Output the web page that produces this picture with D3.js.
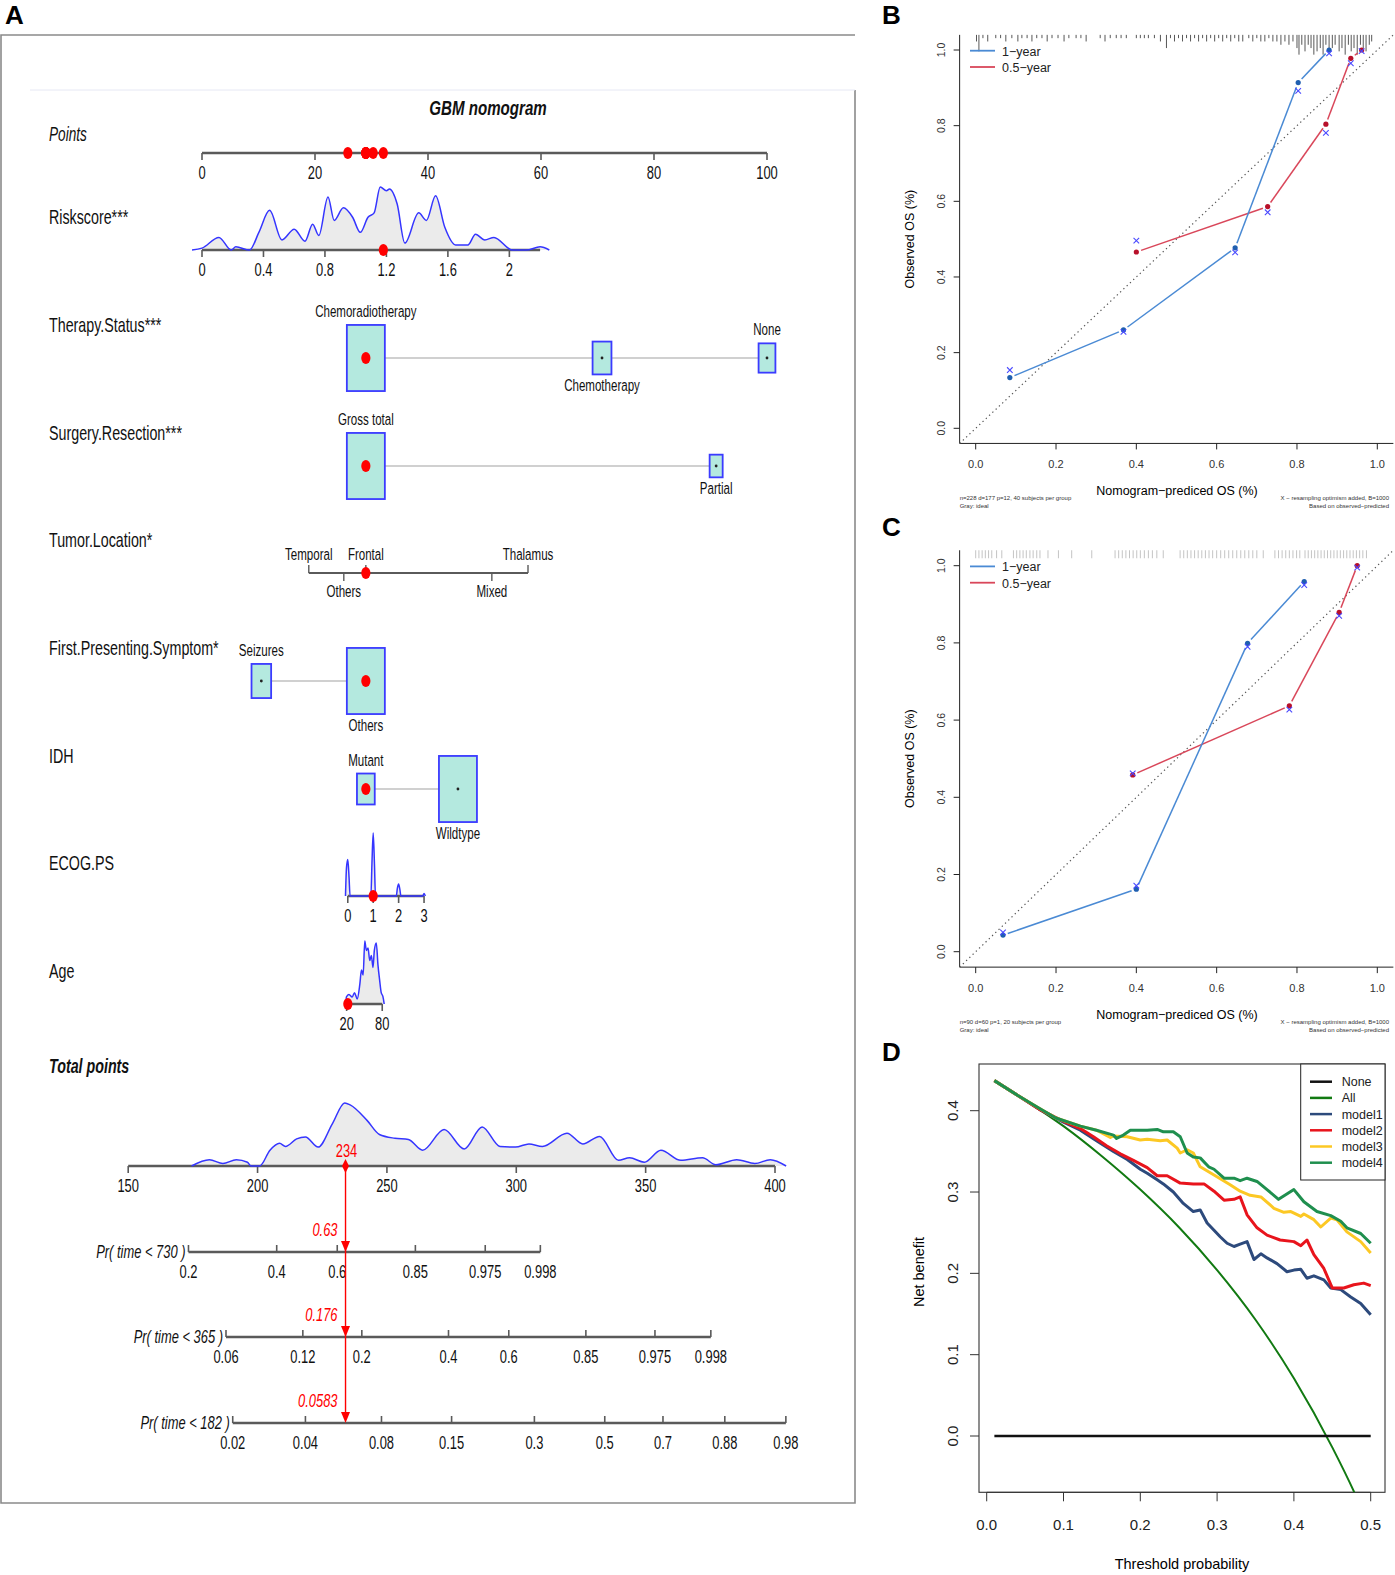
<!DOCTYPE html>
<html>
<head>
<meta charset="utf-8">
<script src="https://cdn.jsdelivr.net/npm/d3@7"></script>
<style>
body{margin:0;background:#fff}
svg text{font-family:"Liberation Sans",Arial,Helvetica,sans-serif}
</style>
</head>
<body>
<script>
// ---------------- data: nomogram (A) ----------------
const pointsTicks = [0,20,40,60,80,100]
const riskTicks = [0,0.4,0.8,1.2,1.6,2]
const riskRange = [0,2], riskPts = [0,54.4]
const riskX = [-0.065,0.0,0.11,0.19,0.22,0.31,0.37,0.44,0.52,0.60,0.67,0.72,0.76,0.82,0.86,0.92,0.98,1.03,1.08,1.12,1.16,1.20,1.22,1.27,1.32,1.41,1.46,1.52,1.58,1.65,1.73,1.78,1.84,1.90,2.02,2.11,2.20,2.26]
const riskDens = [0,0.03,0.2,0,0.05,0,0.28,0.63,0.16,0.33,0.14,0.41,0.23,0.84,0.47,0.67,0.52,0.28,0.52,0.59,1.0,0.94,0.97,0.73,0.11,0.59,0.47,0.86,0.36,0.08,0.08,0.25,0.16,0.2,0,0,0.05,0]

const therapyLevels = ["Chemoradiotherapy","Chemotherapy","None"]
const therapyPts = [29,70.8,100]
const therapyN = [158,39,31]
const surgeryLevels = ["Gross total","Partial"]
const surgeryPts = [29,91]
const surgeryN = [204,24]
const locationLevels = ["Temporal","Others","Frontal","Mixed","Thalamus"]
const locationPts = [18.9,25.1,29,51.3,57.7]
const symptomLevels = ["Seizures","Others"]
const symptomPts = [10.5,29]
const symptomN = [48,180]
const idhLevels = ["Mutant","Wildtype"]
const idhPts = [29,45.3]
const idhN = [41,187]

const ecogTicks = [0,1,2,3]
const ecogRange = [0,3], ecogPts = [25.8,39.3]
const ecogX = [-0.09,-0.05,0,0.05,0.09,0.91,0.95,1.0,1.05,1.09,1.91,1.95,2.0,2.05,2.09,2.95,3.0,3.05]
const ecogDens = [0,0.45,0.58,0.3,0,0,0.5,1.0,0.5,0,0,0.12,0.19,0.1,0,0,0.04,0]

const ageTicks = [20,80]
const ageRange = [20,80], agePts = [25.6,31.9]
const ageX = [19.0,19.5,23.9,29.4,33.3,37.8,42.2,45,47.8,50.6,53.3,56.1,58.9,61.7,64.4,66.7,70,72.8,75.6,78.3,81.1,83.3]
const ageDens = [0,0.11,0.15,0.11,0.18,0.08,0.31,0.54,0.46,1.0,0.85,0.89,0.69,0.77,0.58,0.85,0.97,0.62,0.38,0.18,0.12,0]

// patient values
const patient = {risk:1.18, therapy:"Chemoradiotherapy", surgery:"Gross total", location:"Frontal", symptom:"Others", idh:"Mutant", ecog:1, age:22}
const totalScore = 234

const totalTicks = [150,200,250,300,350,400]
const totalX = [174.5,181.4,186.6,191.8,196.1,197.5,200.8,204.8,208.5,210.8,215.1,218.5,223.4,228.9,233.7,235.8,242.4,247.1,253.1,258.3,263.8,272.1,279.9,286.8,293.7,299.7,304.9,310.1,319.6,325.7,332.2,339.5,343.8,349.5,355.9,363.6,372,377.1,385.2,392.2,398.2,404.3]
const totalDens = [0,0.10,0.04,0.10,0.06,0,0,0.25,0.36,0.31,0.43,0.46,0.30,0.67,1.0,0.97,0.72,0.50,0.44,0.42,0.25,0.58,0.27,0.62,0.31,0.30,0.35,0.31,0.52,0.35,0.47,0.09,0.13,0.06,0.25,0.09,0.13,0.02,0.10,0.04,0.10,0]

const pr730Labels = ["0.2","0.4","0.6","0.85","0.975","0.998"]
const pr730At = [173.3,207.4,230.8,261.0,288.0,309.3]
const pr365Labels = ["0.06","0.12","0.2","0.4","0.6","0.85","0.975","0.998"]
const pr365At = [187.8,217.5,240.3,273.8,297.1,326.9,353.6,375.2]
const pr182Labels = ["0.02","0.04","0.08","0.15","0.3","0.5","0.7","0.88","0.98"]
const pr182At = [190.4,218.5,247.9,275,307,334.2,356.7,380.6,404.2]
const predicted = ["0.63","0.176","0.0583"]

// ---------------- data: calibration (B, C) ----------------
const calTicks = [0,0.2,0.4,0.6,0.8,1.0]
const B1yrPred = [0.085,0.368,0.646,0.803,0.880]
const B1yrObs  = [0.134,0.260,0.477,0.914,1.000]
const B1yrOpt  = [0.154,0.255,0.465,0.892,0.991]
const B6moPred = [0.400,0.727,0.872,0.934,0.961]
const B6moObs  = [0.466,0.586,0.804,0.978,1.000]
const B6moOpt  = [0.496,0.571,0.781,0.965,0.997]
const C1yrPred = [0.068,0.400,0.677,0.818]
const C1yrObs  = [0.043,0.162,0.799,0.959]
const C1yrOpt  = [0.050,0.171,0.790,0.950]
const C6moPred = [0.391,0.781,0.905,0.950]
const C6moObs  = [0.458,0.637,0.879,1.000]
const C6moOpt  = [0.462,0.627,0.870,0.995]
// spike histogram of predictions (value, count)
const rugB = [[0.002,2],[0.008,5],[0.018,1],[0.03,2],[0.05,1],[0.062,1],[0.075,2],[0.09,1],[0.105,2],[0.115,1],[0.128,1],[0.14,2],[0.152,1],[0.165,1],[0.178,2],[0.19,1],[0.205,1],[0.22,2],[0.232,1],[0.25,1],[0.262,1],[0.275,2],[0.31,1],[0.322,2],[0.335,1],[0.35,1],[0.362,1],[0.375,1],[0.40,1],[0.41,1],[0.42,1],[0.43,1],[0.445,1],[0.46,2],[0.475,4],[0.485,1],[0.495,2],[0.505,1],[0.515,2],[0.525,1],[0.535,2],[0.545,1],[0.555,2],[0.565,1],[0.575,2],[0.585,1],[0.595,2],[0.605,1],[0.615,2],[0.625,1],[0.635,2],[0.645,1],[0.655,2],[0.665,2],[0.68,1],[0.69,2],[0.70,1],[0.71,2],[0.72,2],[0.73,1],[0.74,2],[0.75,2],[0.76,3],[0.77,2],[0.78,3],[0.79,2],[0.80,4],[0.805,6],[0.812,3],[0.82,5],[0.828,3],[0.835,4],[0.842,6],[0.85,5],[0.858,4],[0.865,6],[0.872,3],[0.88,5],[0.888,4],[0.895,3],[0.905,5],[0.912,4],[0.92,6],[0.928,3],[0.935,5],[0.942,4],[0.95,6],[0.958,3],[0.965,4],[0.972,5],[0.98,3],[0.986,2]]
const rugC = [0.0,0.008,0.016,0.024,0.032,0.04,0.052,0.065,0.094,0.102,0.11,0.118,0.126,0.135,0.143,0.152,0.16,0.18,0.206,0.239,0.289,0.347,0.356,0.365,0.374,0.383,0.392,0.401,0.41,0.42,0.43,0.44,0.451,0.467,0.509,0.518,0.527,0.536,0.545,0.554,0.563,0.572,0.581,0.59,0.60,0.61,0.62,0.63,0.64,0.65,0.66,0.67,0.68,0.69,0.70,0.716,0.745,0.754,0.763,0.772,0.781,0.79,0.799,0.807,0.82,0.828,0.836,0.844,0.852,0.86,0.868,0.876,0.884,0.892,0.90,0.908,0.916,0.924,0.932,0.94,0.948,0.956,0.964,0.973]

// ---------------- data: decision curves (D) ----------------
const dcaXTicks = [0,0.1,0.2,0.3,0.4,0.5]
const dcaYTicks = [0,0.1,0.2,0.3,0.4]
const dcaNone = [[0.01,0],[0.5,0]]
const dcaAll = [[0.01,0.437],[0.05,0.413],[0.1,0.381],[0.15,0.344],[0.2,0.303],[0.25,0.257],[0.3,0.204],[0.35,0.143],[0.4,0.071],[0.45,-0.014],[0.48,-0.072],[0.5,-0.115]]
const dcaModel1 = [[0.01,0.437],[0.04,0.419],[0.07,0.401],[0.10,0.386],[0.122,0.376],[0.143,0.363],[0.165,0.35],[0.183,0.34],[0.2,0.328],[0.209,0.323],[0.222,0.315],[0.23,0.31],[0.243,0.3],[0.256,0.286],[0.269,0.276],[0.278,0.278],[0.287,0.262],[0.296,0.253],[0.304,0.245],[0.313,0.237],[0.322,0.233],[0.33,0.236],[0.339,0.239],[0.348,0.217],[0.357,0.224],[0.365,0.219],[0.378,0.212],[0.391,0.202],[0.4,0.204],[0.409,0.205],[0.417,0.194],[0.426,0.197],[0.439,0.192],[0.448,0.182],[0.461,0.180],[0.474,0.171],[0.487,0.163],[0.5,0.149]]
const dcaModel2 = [[0.01,0.437],[0.04,0.419],[0.07,0.401],[0.10,0.387],[0.122,0.378],[0.139,0.368],[0.156,0.357],[0.174,0.347],[0.191,0.339],[0.209,0.33],[0.222,0.32],[0.235,0.32],[0.252,0.311],[0.269,0.31],[0.283,0.31],[0.296,0.301],[0.309,0.29],[0.322,0.291],[0.33,0.294],[0.339,0.272],[0.352,0.256],[0.365,0.247],[0.382,0.241],[0.4,0.239],[0.409,0.234],[0.417,0.241],[0.426,0.223],[0.439,0.206],[0.45,0.182],[0.465,0.182],[0.478,0.186],[0.491,0.188],[0.5,0.185]]
const dcaModel3 = [[0.01,0.437],[0.04,0.419],[0.07,0.402],[0.09,0.391],[0.122,0.381],[0.143,0.376],[0.161,0.367],[0.165,0.369],[0.183,0.368],[0.2,0.364],[0.209,0.365],[0.226,0.363],[0.235,0.364],[0.248,0.354],[0.252,0.348],[0.261,0.352],[0.269,0.348],[0.278,0.331],[0.296,0.321],[0.317,0.309],[0.33,0.301],[0.343,0.296],[0.357,0.294],[0.374,0.28],[0.387,0.275],[0.396,0.276],[0.409,0.27],[0.413,0.273],[0.426,0.266],[0.435,0.257],[0.448,0.268],[0.456,0.266],[0.469,0.251],[0.487,0.239],[0.5,0.225]]
const dcaModel4 = [[0.01,0.437],[0.04,0.419],[0.07,0.402],[0.09,0.391],[0.122,0.381],[0.143,0.376],[0.165,0.37],[0.169,0.366],[0.178,0.37],[0.187,0.376],[0.209,0.376],[0.222,0.377],[0.23,0.374],[0.243,0.374],[0.252,0.368],[0.261,0.348],[0.269,0.343],[0.278,0.342],[0.289,0.331],[0.296,0.328],[0.309,0.317],[0.322,0.317],[0.33,0.314],[0.339,0.317],[0.352,0.313],[0.365,0.303],[0.38,0.291],[0.4,0.303],[0.413,0.288],[0.43,0.276],[0.448,0.271],[0.461,0.264],[0.469,0.256],[0.487,0.249],[0.5,0.237]]
const dcaNames = ["None","All","model1","model2","model3","model4"]
const dcaColors = ["#111111","#127a12","#2d4a7c","#e8141c","#fcc824","#1f8f4e"]

// ---------------- drawing ----------------
const svg = d3.select("body").append("svg")
    .attr("width",1395).attr("height",1575).style("display","block")

// condensed text like the R device output
function ctext(g, x, y, s, o){
    o = o || {}
    const t = g.append("text")
        .attr("transform",`translate(${x},${y}) scale(${o.sx||0.68},1)`)
        .attr("text-anchor",o.anchor||"start")
        .style("font-size",(o.size||19)+"px")
        .attr("fill",o.fill||"#111")
        .text(s)
    if(o.italic) t.style("font-style","italic")
    if(o.bold) t.style("font-weight","bold")
    return t
}

function panelLetter(x,y,s){
    svg.append("text").attr("x",x).attr("y",y).style("font-size","26px")
        .style("font-weight","bold").text(s)
}
panelLetter(5,24,"A"); panelLetter(882,24,"B"); panelLetter(882,536,"C"); panelLetter(882,1061,"D")

// ===== Panel A =====
const A = svg.append("g")
A.append("path").attr("d","M855,35 H1 V1503 H855 V90").attr("fill","none").attr("stroke","#8a8a8a").attr("stroke-width",1.6)
A.append("path").attr("d","M30,90 H855").attr("stroke","#e6e8f4").attr("stroke-width",1)

const xP = d3.scaleLinear([0,100],[202,767])
const axisCol = "#5a5a5a", boxFill = "#b4e9df", boxStroke = "#3b3bff", densCol = "#3535ff"

ctext(A,488,115,"GBM nomogram",{anchor:"middle",size:21,bold:true,italic:true,sx:0.72})

function hAxis(y, x0, x1, ticks, up){
    A.append("line").attr("x1",x0).attr("x2",x1).attr("y1",y).attr("y2",y)
        .attr("stroke",axisCol).attr("stroke-width",2.6)
    ticks.forEach(t=>{
        A.append("line").attr("x1",t.x).attr("x2",t.x).attr("y1",y).attr("y2",up? y-7 : y+7)
            .attr("stroke",axisCol).attr("stroke-width",1.6)
        ctext(A,t.x,y+26,t.label,{anchor:"middle",size:19})
    })
}
function redDot(x,y){
    A.append("ellipse").attr("cx",x).attr("cy",y).attr("rx",4.6).attr("ry",6).attr("fill","#ff0000")
}
function rowLabel(y,s){ ctext(A,49,y,s,{size:21}) }

// Points
const yPoints = 153
ctext(A,49,141,"Points",{size:20,italic:true})
hAxis(yPoints,xP(0),xP(100),pointsTicks.map(v=>({x:xP(v),label:String(v)})),false)

// continuous density row
function densityRow(y, xs, ds, mapX, fill){
    const data = xs.map((v,i)=>[v,ds[i]])
    const area = d3.area().x(d=>mapX(d[0])).y0(y).y1(d=>y-d[1]*63).curve(d3.curveMonotoneX)
    const line = d3.line().x(d=>mapX(d[0])).y(d=>y-d[1]*63).curve(d3.curveMonotoneX)
    A.append("path").attr("d",area(data)).attr("fill",fill)
    return ()=>A.append("path").attr("d",line(data)).attr("fill","none").attr("stroke",densCol).attr("stroke-width",1.5)
}

// Riskscore
const yRisk = 250
rowLabel(yRisk-26,"Riskscore***")
const riskToPts = d3.scaleLinear(riskRange,riskPts)
const xRisk = v=>xP(riskToPts(v))
const riskLine = densityRow(yRisk,riskX,riskDens,xRisk,"#ebebeb")
hAxis(yRisk,xRisk(0),xRisk(2.2),riskTicks.map(v=>({x:xRisk(v),label:String(v)})),false)
riskLine()
redDot(xRisk(patient.risk),yRisk)

// categorical rows drawn as boxes
function boxRow(y, levels, pts, n, selected){
    const maxN = d3.max(n)
    const order = d3.range(levels.length).sort((a,b)=>pts[a]-pts[b])
    A.append("line").attr("x1",xP(d3.min(pts))).attr("x2",xP(d3.max(pts))).attr("y1",y).attr("y2",y)
        .attr("stroke","#d0d0d0").attr("stroke-width",2)
    order.forEach((k,j)=>{
        const w = 38*Math.sqrt(n[k]/maxN), h = w*1.74, cx = xP(pts[k])
        A.append("rect").attr("x",cx-w/2).attr("y",y-h/2).attr("width",w).attr("height",h)
            .attr("fill",boxFill).attr("stroke",boxStroke).attr("stroke-width",1.8)
        if(levels[k]===selected) redDot(cx,y)
        else A.append("circle").attr("cx",cx).attr("cy",y).attr("r",1.4).attr("fill","#222")
        if(j%2===0) ctext(A,cx,y-h/2-8,levels[k],{anchor:"middle",size:17})
        else ctext(A,cx,y+h/2+17,levels[k],{anchor:"middle",size:17})
    })
}

const yTher = 358
rowLabel(yTher-26,"Therapy.Status***")
boxRow(yTher,therapyLevels,therapyPts,therapyN,patient.therapy)

const ySurg = 466
rowLabel(ySurg-26,"Surgery.Resection***")
boxRow(ySurg,surgeryLevels,surgeryPts,surgeryN,patient.surgery)

// Tumor location: plain axis with alternating labels
const yLoc = 573
rowLabel(yLoc-26,"Tumor.Location*")
A.append("line").attr("x1",xP(d3.min(locationPts))).attr("x2",xP(d3.max(locationPts)))
    .attr("y1",yLoc).attr("y2",yLoc).attr("stroke",axisCol).attr("stroke-width",2)
locationLevels.forEach((s,i)=>{
    const x = xP(locationPts[i]), up = i%2===0
    A.append("line").attr("x1",x).attr("x2",x).attr("y1",yLoc).attr("y2",up? yLoc-8 : yLoc+8)
        .attr("stroke",axisCol).attr("stroke-width",1.4)
    ctext(A,x,up? yLoc-13 : yLoc+24,s,{anchor:"middle",size:17})
})
redDot(xP(locationPts[locationLevels.indexOf(patient.location)]),yLoc)

const ySym = 681
rowLabel(ySym-26,"First.Presenting.Symptom*")
boxRow(ySym,symptomLevels,symptomPts,symptomN,patient.symptom)

const yIdh = 789
rowLabel(yIdh-26,"IDH")
boxRow(yIdh,idhLevels,idhPts,idhN,patient.idh)

// ECOG
const yEcog = 896
rowLabel(yEcog-26,"ECOG.PS")
const ecogToPts = d3.scaleLinear(ecogRange,ecogPts)
const xEcog = v=>xP(ecogToPts(v))
const ecogLine = densityRow(yEcog,ecogX,ecogDens,xEcog,"#ebebeb")
hAxis(yEcog,xEcog(0),xEcog(3),ecogTicks.map(v=>({x:xEcog(v),label:String(v)})),false)
ecogLine()
redDot(xEcog(patient.ecog),yEcog)

// Age
const yAge = 1004
rowLabel(yAge-26,"Age")
const ageToPts = d3.scaleLinear(ageRange,agePts)
const xAge = v=>xP(ageToPts(v))
const ageLine = densityRow(yAge,ageX,ageDens,xAge,"#ebebeb")
hAxis(yAge,xAge(20),xAge(80),ageTicks.map(v=>({x:xAge(v),label:String(v)})),false)
ageLine()
redDot(xAge(patient.age),yAge)

// red dots on the points scale
const patientPts = [riskToPts(patient.risk), therapyPts[therapyLevels.indexOf(patient.therapy)],
    surgeryPts[surgeryLevels.indexOf(patient.surgery)], locationPts[locationLevels.indexOf(patient.location)],
    symptomPts[symptomLevels.indexOf(patient.symptom)], idhPts[idhLevels.indexOf(patient.idh)],
    ecogToPts(patient.ecog), ageToPts(patient.age)]
patientPts.forEach(p=>redDot(xP(p),yPoints))

// Total points
const xT = d3.scaleLinear([150,400],[128.2,775])
const yTot = 1166
ctext(A,49,1073,"Total points",{size:21,bold:true,italic:true})
const totLine = densityRow(yTot,totalX,totalDens,xT,"#ebebeb")
hAxis(yTot,xT(150),xT(400),totalTicks.map(v=>({x:xT(v),label:String(v)})),false)
totLine()

// probability axes
const prRows = [
    {y:1252, lab:"Pr( time < 730 )", labels:pr730Labels, at:pr730At},
    {y:1337, lab:"Pr( time < 365 )", labels:pr365Labels, at:pr365At},
    {y:1423, lab:"Pr( time < 182 )", labels:pr182Labels, at:pr182At}
]
prRows.forEach((r,i)=>{
    const x0 = xT(r.at[0]), x1 = xT(r.at[r.at.length-1])
    A.append("line").attr("x1",x0).attr("x2",x1).attr("y1",r.y).attr("y2",r.y)
        .attr("stroke",axisCol).attr("stroke-width",2.6)
    r.labels.forEach((s,k)=>{
        const x = xT(r.at[k])
        A.append("line").attr("x1",x).attr("x2",x).attr("y1",r.y).attr("y2",r.y-7)
            .attr("stroke",axisCol).attr("stroke-width",1.6)
        ctext(A,x,r.y+26,s,{anchor:"middle",size:19})
    })
    ctext(A,x0-3,r.y+6,r.lab,{anchor:"end",size:19,italic:true})
})

// patient projection in red
const xs = xT(totalScore)
A.append("line").attr("x1",xs).attr("x2",xs).attr("y1",yTot).attr("y2",prRows[2].y-4)
    .attr("stroke","#ff0000").attr("stroke-width",1.4)
A.append("path").attr("d",`M${xs},${yTot-7} L${xs+3.5},${yTot} L${xs},${yTot+7} L${xs-3.5},${yTot} Z`).attr("fill","#ff0000")
ctext(A,xs+1,yTot-9,String(totalScore),{anchor:"middle",size:19,fill:"#ff0000"})
prRows.forEach((r,i)=>{
    A.append("path").attr("d",`M${xs-4.5},${r.y-11} L${xs+4.5},${r.y-11} L${xs},${r.y} Z`).attr("fill","#ff0000")
    ctext(A,xs-8,r.y-16,predicted[i],{anchor:"end",size:19,italic:true,fill:"#ff0000"})
})

// ===== Panels B and C =====
function calPanel(o){
    const g = svg.append("g")
    const x = d3.scaleLinear([0,1],[975.7,1377.3])
    const y = d3.scaleLinear([0,1],[o.y0,o.y1])
    const left = x(-0.04), right = x(1.04), top = y(1.04), bottom = y(-0.04)
    // axes
    g.append("line").attr("x1",left).attr("x2",left).attr("y1",top).attr("y2",bottom).attr("stroke","#222")
    g.append("line").attr("x1",left).attr("x2",right).attr("y1",bottom).attr("y2",bottom).attr("stroke","#222")
    calTicks.forEach(v=>{
        g.append("line").attr("x1",left).attr("x2",left-6).attr("y1",y(v)).attr("y2",y(v)).attr("stroke","#222")
        g.append("text").attr("transform",`translate(${left-15},${y(v)}) rotate(-90)`).attr("text-anchor","middle")
            .style("font-size","10.5px").attr("fill","#333").text(v.toFixed(1))
        g.append("line").attr("x1",x(v)).attr("x2",x(v)).attr("y1",bottom).attr("y2",bottom+6).attr("stroke","#222")
        g.append("text").attr("x",x(v)).attr("y",bottom+25).attr("text-anchor","middle")
            .style("font-size","11px").attr("fill","#333").text(v.toFixed(1))
    })
    g.append("text").attr("x",1177).attr("y",bottom+52).attr("text-anchor","middle").style("font-size","12.5px")
        .text("Nomogram\u2212prediced OS (%)")
    g.append("text").attr("transform",`translate(914,${(top+bottom)/2}) rotate(-90)`).attr("text-anchor","middle")
        .style("font-size","12.5px").text("Observed OS (%)")
    g.append("text").attr("x",left).attr("y",bottom+57).style("font-size","6px").attr("fill","#333").text(o.note)
    g.append("text").attr("x",left).attr("y",bottom+65).style("font-size","6px").attr("fill","#333").text("Gray: ideal")
    g.append("text").attr("x",1389).attr("y",bottom+57).attr("text-anchor","end").style("font-size","6px").attr("fill","#333")
        .text("X \u2212 resampling optimism added, B=1000")
    g.append("text").attr("x",1389).attr("y",bottom+65).attr("text-anchor","end").style("font-size","6px").attr("fill","#333")
        .text("Based on observed\u2212predicted")
    // rug
    o.rug.forEach(d=>{
        g.append("line").attr("x1",x(d[0])).attr("x2",x(d[0])).attr("y1",top).attr("y2",top+d[1]*o.rugStep)
            .attr("stroke",o.rugColor).attr("stroke-width",0.9)
    })
    // ideal line
    g.append("line").attr("x1",x(-0.04)).attr("y1",y(-0.04)).attr("x2",x(1.04)).attr("y2",y(1.04))
        .attr("stroke","#555").attr("stroke-width",1.2).attr("stroke-dasharray","1.3,3.2")
    // series
    o.series.forEach(s=>{
        const pts = s.pred.map((p,i)=>[x(p),y(s.obs[i])])
        for(let i=0;i<pts.length-1;i++){
            const [ax,ay] = pts[i], [bx,by] = pts[i+1]
            const L = Math.hypot(bx-ax,by-ay), gap = 5
            if(L<2*gap) continue
            const ux=(bx-ax)/L, uy=(by-ay)/L
            g.append("line").attr("x1",ax+ux*gap).attr("y1",ay+uy*gap).attr("x2",bx-ux*gap).attr("y2",by-uy*gap)
                .attr("stroke",s.line).attr("stroke-width",1.5)
        }
        pts.forEach(p=>g.append("circle").attr("cx",p[0]).attr("cy",p[1]).attr("r",2.6).attr("fill",s.dot))
        s.pred.forEach((p,i)=>{
            const cx = x(p), cy = y(s.opt[i]), r = 2.8
            g.append("path").attr("d",`M${cx-r},${cy-r} L${cx+r},${cy+r} M${cx-r},${cy+r} L${cx+r},${cy-r}`)
                .attr("stroke","#4a4aff").attr("stroke-width",1.1)
        })
    })
    // legend
    const ly = y(1.0)
    ;[["1\u2212year","#4a8ad4"],["0.5\u2212year","#d9475a"]].forEach((d,i)=>{
        g.append("line").attr("x1",970).attr("x2",995).attr("y1",ly+0.7+i*16.3).attr("y2",ly+0.7+i*16.3)
            .attr("stroke",d[1]).attr("stroke-width",1.8)
        g.append("text").attr("x",1002).attr("y",ly+5.5+i*16.3).style("font-size","12.5px").attr("fill","#222").text(d[0])
    })
}
const blueSeries = (pred,obs,opt)=>({pred,obs,opt,line:"#4a8ad4",dot:"#1f5fb0"})
const redSeries = (pred,obs,opt)=>({pred,obs,opt,line:"#d9475a",dot:"#b8102a"})
calPanel({y0:428.3,y1:50, rug:rugB, rugStep:3.3, rugColor:"#444",
    note:"n=228 d=177 p=12, 40 subjects per group",
    series:[redSeries(B6moPred,B6moObs,B6moOpt), blueSeries(B1yrPred,B1yrObs,B1yrOpt)]})
calPanel({y0:951.7,y1:565.7, rug:rugC.map(v=>[v,1]), rugStep:8, rugColor:"#bdbdbd",
    note:"n=90 d=60 p=1, 20 subjects per group",
    series:[redSeries(C6moPred,C6moObs,C6moOpt), blueSeries(C1yrPred,C1yrObs,C1yrOpt)]})

// ===== Panel D =====
const D = svg.append("g")
const xD = d3.scaleLinear([0,0.5],[986.7,1370.7])
const yD = d3.scaleLinear([0,0.4],[1436,1110.7])
const boxL = 979, boxR = 1385, boxT = 1064, boxB = 1492.3
D.append("clipPath").attr("id","dclip").append("rect").attr("x",boxL).attr("y",boxT).attr("width",boxR-boxL).attr("height",boxB-boxT)
D.append("rect").attr("x",boxL).attr("y",boxT).attr("width",boxR-boxL).attr("height",boxB-boxT)
    .attr("fill","none").attr("stroke","#333").attr("stroke-width",1.1)
D.append("line").attr("x1",xD(0)).attr("x2",xD(0.5)).attr("y1",boxB).attr("y2",boxB).attr("stroke","#333")
dcaXTicks.forEach(v=>{
    D.append("line").attr("x1",xD(v)).attr("x2",xD(v)).attr("y1",boxB).attr("y2",boxB+9).attr("stroke","#333")
    D.append("text").attr("x",xD(v)).attr("y",1530).attr("text-anchor","middle").style("font-size","15px").attr("fill","#222").text(v.toFixed(1))
})
dcaYTicks.forEach(v=>{
    D.append("line").attr("x1",boxL).attr("x2",boxL-9).attr("y1",yD(v)).attr("y2",yD(v)).attr("stroke","#333")
    D.append("text").attr("transform",`translate(958,${yD(v)}) rotate(-90)`).attr("text-anchor","middle")
        .style("font-size","15px").attr("fill","#222").text(v.toFixed(1))
})
D.append("text").attr("x",1182).attr("y",1569).attr("text-anchor","middle").style("font-size","14.5px").text("Threshold probability")
D.append("text").attr("transform","translate(924,1272) rotate(-90)").attr("text-anchor","middle").style("font-size","14.5px").text("Net benefit")

const dLine = d3.line().x(d=>xD(d[0])).y(d=>yD(d[1]))
const curves = [
    {d:dcaAll, c:dcaColors[1], w:2, curve:d3.curveMonotoneX},
    {d:dcaModel1, c:dcaColors[2], w:3},
    {d:dcaModel2, c:dcaColors[3], w:3},
    {d:dcaModel3, c:dcaColors[4], w:3},
    {d:dcaModel4, c:dcaColors[5], w:3},
    {d:dcaNone, c:dcaColors[0], w:2.5}
]
const dc = D.append("g").attr("clip-path","url(#dclip)")
curves.forEach(k=>{
    dc.append("path").attr("d",dLine.curve(k.curve||d3.curveLinear)(k.d)).attr("fill","none")
        .attr("stroke",k.c).attr("stroke-width",k.w).attr("stroke-linejoin","round")
})
// legend
D.append("rect").attr("x",1300.7).attr("y",boxT).attr("width",boxR-1300.7).attr("height",116)
    .attr("fill","#fff").attr("stroke","#222").attr("stroke-width",1)
dcaNames.forEach((s,i)=>{
    const ly = 1081.7+i*16.2
    D.append("line").attr("x1",1310).attr("x2",1332).attr("y1",ly).attr("y2",ly).attr("stroke",dcaColors[i]).attr("stroke-width",2.5)
    D.append("text").attr("x",1341.7).attr("y",ly+4.5).style("font-size","12.5px").attr("fill","#222").text(s)
})
</script>
</body>
</html>
